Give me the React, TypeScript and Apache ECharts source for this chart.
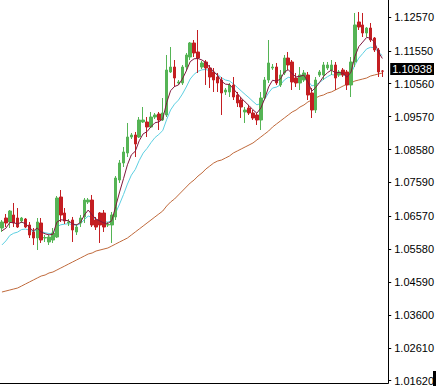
import React, { useEffect, useRef } from "react";
import * as echarts from "echarts";

// [open, close, low, high]
const ohlc: [number, number, number, number][] = [
  [1.06217, 1.06398, 1.06097, 1.06458],
  [1.06518, 1.06368, 1.06247, 1.06639],
  [1.06398, 1.06729, 1.06217, 1.06759],
  [1.06609, 1.06368, 1.06247, 1.0697],
  [1.06518, 1.06247, 1.06217, 1.06819],
  [1.06428, 1.06518, 1.06368, 1.06549],
  [1.06488, 1.06247, 1.06217, 1.06518],
  [1.06308, 1.06007, 1.05916, 1.06398],
  [1.06097, 1.05916, 1.05706, 1.06217],
  [1.05916, 1.06398, 1.05555, 1.06518],
  [1.06368, 1.05856, 1.05766, 1.06518],
  [1.05916, 1.05931, 1.05796, 1.06007],
  [1.05796, 1.05946, 1.05706, 1.06007],
  [1.05856, 1.06067, 1.05766, 1.06217],
  [1.05946, 1.0712, 1.05916, 1.0718],
  [1.0715, 1.06609, 1.06398, 1.07361],
  [1.06669, 1.06428, 1.06338, 1.06819],
  [1.06368, 1.06398, 1.06277, 1.06488],
  [1.06458, 1.06157, 1.05796, 1.06549],
  [1.06097, 1.06247, 1.06007, 1.06338],
  [1.06368, 1.06518, 1.06247, 1.06609],
  [1.06549, 1.0706, 1.06368, 1.0712],
  [1.07, 1.0706, 1.0694, 1.0712],
  [1.0706, 1.06308, 1.06247, 1.07211],
  [1.06458, 1.06247, 1.06157, 1.06549],
  [1.06669, 1.06308, 1.05766, 1.06699],
  [1.06669, 1.06247, 1.06097, 1.06759],
  [1.06308, 1.06323, 1.06247, 1.06398],
  [1.06308, 1.06609, 1.05766, 1.06699],
  [1.06549, 1.07722, 1.06458, 1.07782],
  [1.07662, 1.08174, 1.07572, 1.08264],
  [1.08174, 1.08505, 1.08053, 1.08655],
  [1.08475, 1.08956, 1.08354, 1.09378],
  [1.08956, 1.09017, 1.08896, 1.09077],
  [1.09017, 1.08746, 1.08354, 1.09107],
  [1.08956, 1.09468, 1.08926, 1.09558],
  [1.09408, 1.09468, 1.09378, 1.09859],
  [1.09408, 1.09257, 1.08956, 1.09558],
  [1.09257, 1.09558, 1.09227, 1.09709],
  [1.09558, 1.09619, 1.09498, 1.09679],
  [1.09649, 1.09468, 1.09167, 1.09709],
  [1.09468, 1.09679, 1.09438, 1.1013],
  [1.09619, 1.10973, 1.09558, 1.11425],
  [1.10913, 1.11063, 1.10883, 1.11665],
  [1.11063, 1.10732, 1.10461, 1.11274],
  [1.10582, 1.10612, 1.10522, 1.10672],
  [1.10582, 1.11063, 1.10522, 1.11124],
  [1.11063, 1.11425, 1.10973, 1.11485],
  [1.11364, 1.11786, 1.11274, 1.11816],
  [1.11786, 1.11485, 1.11364, 1.11876],
  [1.11515, 1.11334, 1.10883, 1.12177],
  [1.11063, 1.11184, 1.11003, 1.11244],
  [1.11214, 1.11033, 1.10522, 1.11274],
  [1.11033, 1.10762, 1.10431, 1.11124],
  [1.10913, 1.10672, 1.10311, 1.11033],
  [1.10762, 1.10582, 1.10311, 1.10883],
  [1.10672, 1.10281, 1.09619, 1.10762],
  [1.10311, 1.10371, 1.10221, 1.10431],
  [1.10311, 1.10522, 1.1016, 1.10582],
  [1.10522, 1.1016, 1.1007, 1.10762],
  [1.10221, 1.0998, 1.09859, 1.10311],
  [1.1007, 1.09859, 1.09528, 1.1016],
  [1.09709, 1.09769, 1.09378, 1.09859],
  [1.09829, 1.09679, 1.09619, 1.0992],
  [1.09679, 1.09528, 1.09468, 1.09769],
  [1.09619, 1.09468, 1.09318, 1.09679],
  [1.09468, 1.1013, 1.09167, 1.10311],
  [1.1013, 1.10672, 1.1007, 1.10762],
  [1.10672, 1.11184, 1.10582, 1.11876],
  [1.11033, 1.11063, 1.10973, 1.11154],
  [1.11063, 1.10582, 1.10522, 1.11184],
  [1.10522, 1.10823, 1.10461, 1.10973],
  [1.10883, 1.11334, 1.10823, 1.11425],
  [1.11334, 1.11124, 1.10973, 1.11515],
  [1.11214, 1.10612, 1.10371, 1.11274],
  [1.10732, 1.10582, 1.10461, 1.10883],
  [1.10582, 1.10823, 1.10371, 1.11063],
  [1.10672, 1.10883, 1.10612, 1.10973],
  [1.10823, 1.10221, 1.1007, 1.10913],
  [1.10281, 1.09769, 1.09528, 1.10431],
  [1.09769, 1.10672, 1.09679, 1.10762],
  [1.10823, 1.10913, 1.10762, 1.10973],
  [1.10823, 1.11124, 1.10672, 1.11214],
  [1.11033, 1.11124, 1.10973, 1.11214],
  [1.10973, 1.11124, 1.10823, 1.11274],
  [1.11124, 1.10732, 1.10371, 1.11214],
  [1.10823, 1.10913, 1.10762, 1.10973],
  [1.10973, 1.10823, 1.10762, 1.11033],
  [1.10913, 1.10522, 1.10371, 1.10973],
  [1.10522, 1.11214, 1.1016, 1.11364],
  [1.11214, 1.12328, 1.11063, 1.12689],
  [1.12418, 1.12267, 1.12177, 1.12719],
  [1.12328, 1.12087, 1.11966, 1.12689],
  [1.12087, 1.12237, 1.11966, 1.12267],
  [1.12237, 1.11876, 1.11816, 1.12388],
  [1.11936, 1.11575, 1.11515, 1.11966],
  [1.11575, 1.10913, 1.10762, 1.11635],
  [1.10943, 1.10938, 1.10762, 1.10973],
];

// slow moving average (orange line), read per bar
const slowMA = [
  1.04291, 1.04321, 1.04351, 1.04381, 1.04411, 1.04471, 1.04532, 1.04592, 1.04652, 1.04712,
  1.04772, 1.04802, 1.04863, 1.04893, 1.04953, 1.05013, 1.05073, 1.05134, 1.05194, 1.05254,
  1.05314, 1.05374, 1.05435, 1.05465, 1.05525, 1.05555, 1.05585, 1.05615, 1.05675, 1.05736,
  1.05796, 1.05856, 1.05916, 1.06007, 1.06097, 1.06187, 1.06277, 1.06368, 1.06458, 1.06549,
  1.06639, 1.06729, 1.06879, 1.07, 1.0709, 1.07211, 1.07331, 1.07451, 1.07572, 1.07662,
  1.07782, 1.07873, 1.07993, 1.08083, 1.08174, 1.08234, 1.08264, 1.08324, 1.08384, 1.08475,
  1.08535, 1.08595, 1.08655, 1.08715, 1.08776, 1.08866, 1.08956, 1.09047, 1.09137, 1.09257,
  1.09348, 1.09438, 1.09528, 1.09619, 1.09709, 1.09769, 1.09859, 1.0992, 1.1001, 1.1007,
  1.1013, 1.1019, 1.10221, 1.10281, 1.10311, 1.10371, 1.10431, 1.10491, 1.10552, 1.10582,
  1.10642, 1.10672, 1.10702, 1.10732, 1.10792, 1.10823, 1.10853, 1.10883,
];

// price-scale labels on the right
const yTicks = [
  1.0162, 1.0261, 1.036, 1.0459, 1.0558, 1.0657, 1.0759, 1.0858, 1.0957, 1.1056,
  1.1155, 1.1257,
];
const yMin = 1.01552;
const yMax = 1.1308;
const lastPrice = 1.10938;

// fast moving averages (exponential of closes), starting values read at the left edge
const fastPeriod = 5;
const fastStart = 1.06;
const midPeriod = 10;
const midStart = 1.05555;

// one empty slot on the right (chart shift)
const categories = Array.from({ length: ohlc.length + 1 }, (_, i) => String(i + 1));

function ema(closes: number[], period: number, start: number): number[] {
  const k = 2 / (period + 1);
  const out: number[] = [];
  let prev = start;
  closes.forEach((c) => {
    prev = prev + k * (c - prev);
    out.push(+prev.toFixed(5));
  });
  return out;
}

export default function App() {
  const ref = useRef<HTMLDivElement>(null);
  useEffect(() => {
    if (!ref.current) return;
    const chart = echarts.init(ref.current, undefined, { renderer: "svg" });
    const closes = ohlc.map((d) => d[1]);
    const fast = ema(closes, fastPeriod, fastStart);
    const mid = ema(closes, midPeriod, midStart);
    const font = "'Liberation Sans', Arial, sans-serif";
    chart.setOption({
      animation: false,
      backgroundColor: "#ffffff",
      grid: { left: 0, right: 40, top: 0, bottom: 5 },
      xAxis: {
        type: "category",
        data: categories,
        boundaryGap: true,
        axisLine: { show: true, lineStyle: { color: "#000", width: 1 } },
        axisTick: { show: false },
        axisLabel: { show: false },
        splitLine: { show: false },
      },
      yAxis: {
        type: "value",
        position: "right",
        min: yMin,
        max: yMax,
        scale: true,
        axisLine: { show: true, lineStyle: { color: "#000", width: 1 } },
        axisTick: {
          show: true,
          customValues: yTicks,
          length: 3,
          inside: false,
          lineStyle: { color: "#000" },
        },
        axisLabel: {
          show: true,
          customValues: yTicks,
          formatter: (v: number) => v.toFixed(5),
          fontSize: 11,
          fontFamily: font,
          color: "#000",
          margin: 6,
        },
        splitLine: { show: false },
      },
      graphic: [
        {
          type: "rect",
          right: 1,
          bottom: 2,
          shape: { width: 3, height: 15 },
          style: { fill: "#000" },
          silent: true,
        },
      ],
      series: [
        {
          type: "line",
          data: slowMA,
          symbol: "none",
          lineStyle: { color: "#c06a3c", width: 1 },
          z: 1,
        },
        {
          type: "line",
          data: mid,
          symbol: "none",
          lineStyle: { color: "#5dd0e2", width: 1 },
          z: 1,
        },
        {
          type: "candlestick",
          data: ohlc,
          barWidth: 3,
          z: 2,
          itemStyle: {
            color: "#55b455",
            color0: "#c41e22",
            borderColor: "#55b455",
            borderColor0: "#c41e22",
            borderWidth: 1,
          },
          markLine: {
            silent: true,
            symbol: ["none", "none"],
            lineStyle: { color: "rgba(0,0,0,0)", width: 0 },
            data: [{ yAxis: lastPrice }],
            label: {
              show: true,
              position: "end",
              distance: 2,
              formatter: lastPrice.toFixed(5),
              backgroundColor: "#000",
              color: "#fff",
              fontSize: 11,
              fontFamily: font,
              padding: [1, 2, 0, 2],
            },
          },
        },
        {
          type: "line",
          data: fast,
          symbol: "none",
          lineStyle: { color: "#80183e", width: 1 },
          z: 3,
        },
      ],
    });
    return () => chart.dispose();
  }, []);
  return (
    <div
      ref={ref}
      style={{ position: "fixed", left: 0, top: 0, width: 437, height: 388, background: "#fff" }}
    />
  );
}
